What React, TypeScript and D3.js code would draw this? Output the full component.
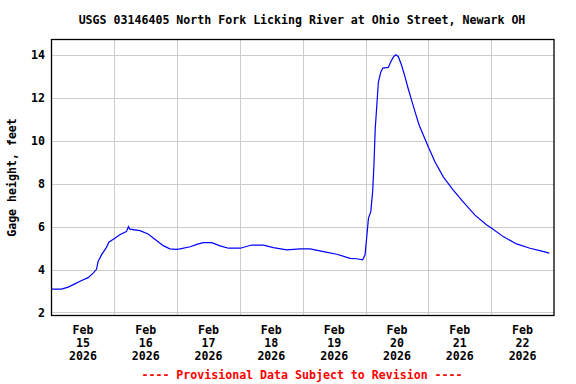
import React from "react";
import * as d3 from "d3";

const TITLE = "USGS 03146405 North Fork Licking River at Ohio Street, Newark OH";
const Y_LABEL = "Gage height, feet";
const FOOTER = "---- Provisional Data Subject to Revision ----";

// hours since Feb 15 2026 00:00
const hours = [
  0, 3.8, 6.4, 8.9, 11.5, 14.0, 15.9, 17.2, 17.8, 19.1, 21.0, 21.9, 24.2, 26.1, 28.6, 29.4, 29.9,
  33.8, 36.9, 39.5, 42.7, 45.2, 47.7, 49.1, 53.0, 55.5, 58.0, 61.2, 64.4, 67.6, 72.1, 76.5, 81.0,
  84.8, 89.9, 95.0, 98.8, 103.9, 109.0, 114.1, 116.6, 118.9, 119.8, 120.4, 121.1, 122.0, 122.7,
  123.2, 123.7, 124.3, 124.9, 125.8, 126.6, 128.7, 129.6, 130.6, 131.5, 132.5, 133.8, 135.1,
  136.3, 137.6, 138.9, 140.5, 142.1, 144.0, 146.5, 149.7, 153.5, 157.3, 161.8, 166.3, 168.2,
  172.6, 177.7, 182.8, 186.6, 190.2,
];
const gageFeet = [
  3.09, 3.09, 3.18, 3.33, 3.49, 3.62, 3.83, 4.01, 4.37, 4.68, 5.03, 5.27, 5.45, 5.62, 5.76, 5.99, 5.88,
  5.81, 5.65, 5.41, 5.11, 4.96, 4.94, 4.96, 5.06, 5.17, 5.25, 5.25, 5.10, 4.99, 4.99, 5.14, 5.13,
  5.02, 4.91, 4.96, 4.96, 4.83, 4.71, 4.52, 4.50, 4.45, 4.68, 5.45, 6.38, 6.69, 7.61,
  8.85, 10.56, 11.64, 12.72, 13.18, 13.37, 13.40, 13.65, 13.88, 13.99, 13.91, 13.49, 12.95,
  12.41, 11.87, 11.33, 10.71, 10.25, 9.70, 9.01, 8.31, 7.69, 7.15, 6.53, 6.07, 5.92,
  5.53, 5.19, 4.99, 4.88, 4.76,
];
const yTicks = [2, 4, 6, 8, 10, 12, 14];
const dayLabels = ["15", "16", "17", "18", "19", "20", "21", "22"];
const monthLabel = "Feb";
const yearLabel = "2026";

const W = 576;
const H = 384;
const left = 51.5;
const right = 554;
const top = 39.5;
const bottom = 315.5;
const FONT = "'DejaVu Sans Mono', monospace";

export default function App() {
  const start = new Date(2026, 1, 15, 0, 0);
  const end = new Date(2026, 1, 23, 0, 0);
  const x = d3.scaleTime().domain([start, end]).range([left, right]);
  const y = d3.scaleLinear().domain([1.86, 14.7]).range([bottom, top]);

  const data = hours.map((h, i) => ({ t: d3.timeMinute.offset(start, Math.round(h * 60)), v: gageFeet[i] }));
  const line = d3
    .line<{ t: Date; v: number }>()
    .x((d) => x(d.t))
    .y((d) => y(d.v));

  const dayTicks = d3.timeDay.range(d3.timeDay.offset(start, 1), end);
  const noonTicks = d3.timeDay.range(start, end).map((d) => d3.timeHour.offset(d, 12));

  return (
    <svg width={W} height={H} style={{ position: "absolute", left: 0, top: 0, background: "#fff" }}>
      <rect x={0} y={0} width={W} height={H} fill="#fff" />
      <text x={302} y={24} textAnchor="middle" fontFamily={FONT} fontWeight="bold" fontSize={11.6} fill="#000">
        {TITLE}
      </text>
      {yTicks.map((t) => (
        <line key={"h" + t} x1={left} x2={right} y1={Math.round(y(t)) + 0.5} y2={Math.round(y(t)) + 0.5} stroke="#cccccc" strokeWidth={1} />
      ))}
      {dayTicks.map((d, i) => (
        <line key={"v" + i} x1={Math.round(x(d)) + 0.5} x2={Math.round(x(d)) + 0.5} y1={top} y2={bottom} stroke="#cccccc" strokeWidth={1} />
      ))}
      <path d={line(data) || ""} fill="none" stroke="#0000ff" strokeWidth={1.2} />
      <rect x={left} y={top} width={right - left} height={bottom - top} fill="none" stroke="#000" strokeWidth={1.3} />
      {yTicks.map((t) => (
        <text key={"yl" + t} x={45} y={y(t) + 4.5} textAnchor="end" fontFamily={FONT} fontWeight="bold" fontSize={11.6} fill="#000">
          {t}
        </text>
      ))}
      <text
        transform={`translate(16,${(top + bottom) / 2}) rotate(-90)`}
        textAnchor="middle"
        fontFamily={FONT}
        fontWeight="bold"
        fontSize={11.6}
        fill="#000"
      >
        {Y_LABEL}
      </text>
      {noonTicks.map((d, i) => (
        <g key={"xl" + i} fontFamily={FONT} fontWeight="bold" fontSize={11.6} fill="#000" textAnchor="middle">
          <text x={x(d)} y={334}>{monthLabel}</text>
          <text x={x(d)} y={347}>{dayLabels[i]}</text>
          <text x={x(d)} y={360}>{yearLabel}</text>
        </g>
      ))}
      <text x={302} y={379} textAnchor="middle" fontFamily={FONT} fontWeight="bold" fontSize={11.6} fill="#ff0000">
        {FOOTER}
      </text>
    </svg>
  );
}
